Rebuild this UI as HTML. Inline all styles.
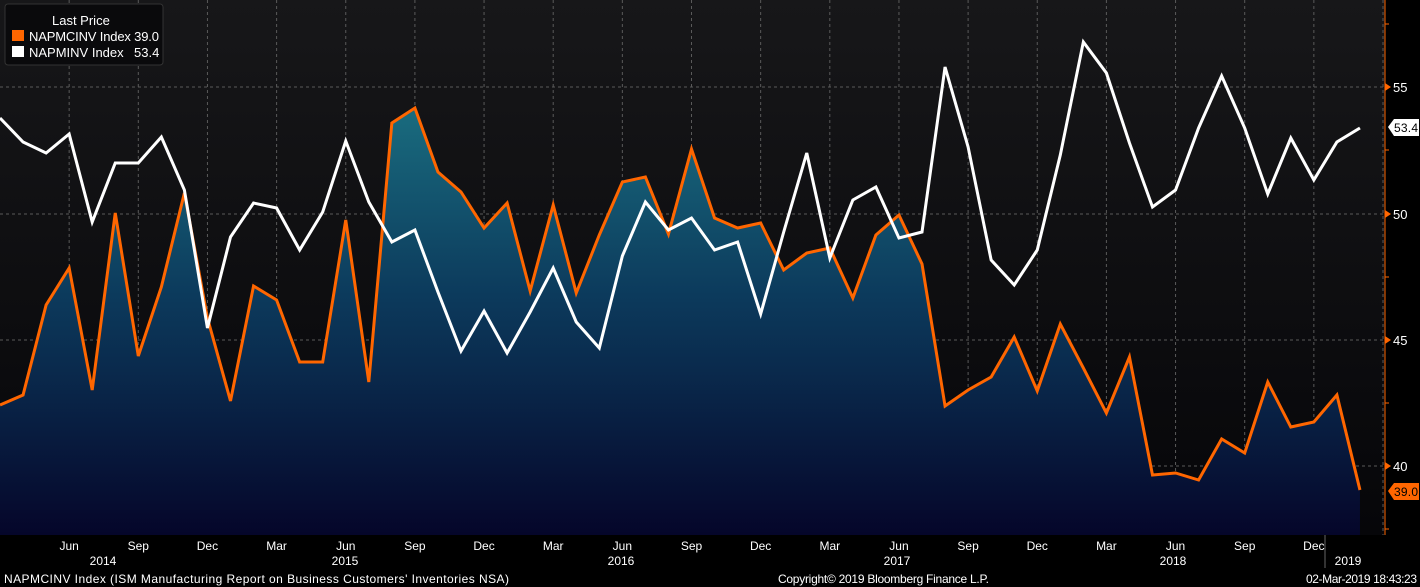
<!DOCTYPE html>
<html><head><style>
html,body{margin:0;padding:0;background:#000;}
svg{display:block;font-family:"Liberation Sans",Arial,sans-serif;}
</style></head><body>
<svg width="1420" height="587" viewBox="0 0 1420 587" xmlns="http://www.w3.org/2000/svg">
<defs>
<linearGradient id="bg" x1="0" y1="0" x2="0" y2="1">
<stop offset="0" stop-color="#171719"/><stop offset="1" stop-color="#060609"/>
</linearGradient>
<linearGradient id="fill" x1="0" y1="100" x2="0" y2="535" gradientUnits="userSpaceOnUse">
<stop offset="0" stop-color="#1a6e80"/><stop offset="0.45" stop-color="#0c3a5c"/><stop offset="1" stop-color="#05062a"/>
</linearGradient>
</defs>
<rect x="0" y="0" width="1420" height="587" fill="#000"/>
<rect x="0" y="0" width="1385" height="535" fill="url(#bg)"/>
<g id="grid" stroke="#5a5a5a" stroke-width="1" stroke-dasharray="3,3"></g>
<path id="area" fill="url(#fill)"/>
<polyline id="orange" fill="none" stroke="#ff6600" stroke-width="3" stroke-linejoin="miter"/>
<polyline id="white" fill="none" stroke="#ffffff" stroke-width="3"/>
<line x1="1385" y1="0" x2="1385" y2="535" stroke="#ff6600" stroke-width="1"/>
<g id="yax" fill="#fff" font-size="13"></g>
<g id="xax" fill="#fff" font-size="12"></g>
<polygon points="1388,127 1394,119 1419,119 1419,136 1394,136" fill="#fff"/>
<text x="1394" y="132" font-size="12" fill="#000" textLength="24">53.4</text>
<polygon points="1388,491 1394,483 1419,483 1419,500 1394,500" fill="#ff6600"/>
<text x="1394" y="496" font-size="12" fill="#000" textLength="24">39.0</text>
<rect x="5" y="4" width="158" height="61" rx="3" fill="#0a0a0c" stroke="#333"/>
<text x="52" y="25" font-size="13" fill="#fff">Last Price</text>
<rect x="12" y="30" width="12" height="11" fill="#ff6600"/>
<text x="29" y="41" font-size="13" fill="#fff" textLength="130">NAPMCINV Index 39.0</text>
<rect x="12" y="46" width="12" height="11" fill="#fff"/>
<text x="29" y="57" font-size="13" fill="#fff">NAPMINV Index</text>
<text x="134" y="57" font-size="13" fill="#fff">53.4</text>
<text x="4" y="583" font-size="12" fill="#fff" textLength="505">NAPMCINV Index (ISM Manufacturing Report on Business Customers' Inventories NSA)</text>
<text x="778" y="583" font-size="12" fill="#fff" textLength="211">Copyright© 2019 Bloomberg Finance L.P.</text>
<text x="1306" y="583" font-size="12" fill="#fff" textLength="111">02-Mar-2019 18:43:23</text>
</svg>
<script>
const o=[405,395,305,268,390,213,356,287,193,318,401,286,300,362,362,220,382,123,108,172,192,228,203,291,205,293,235,182,177,234,149,218,228,223,270,253,248,298,235,215,264,406,390,377,337,391,324,368,413,357,475,473,480,439,453,382,427,422,395,490];
const w=[118,142,153,134,222,163,163,137,190,328,237,203,208,250,212,141,202,242,230,292,351,311,353,312,268,322,348,256,202,230,218,250,242,314,232,153,258,200,187,238,232,67,147,260,285,250,155,42,73,143,207,190,128,76,128,194,138,180,142,128];
const X=i=>i*23.05;
document.getElementById('orange').setAttribute('points',o.map((y,i)=>X(i)+','+y).join(' '));
document.getElementById('white').setAttribute('points',w.map((y,i)=>X(i)+','+y).join(' '));
document.getElementById('area').setAttribute('d','M0,535 '+o.map((y,i)=>'L'+X(i)+','+y).join(' ')+' L'+X(59)+',535 Z');
const ns='http://www.w3.org/2000/svg';
const g=document.getElementById('grid'),ya=document.getElementById('yax'),xa=document.getElementById('xax');
function el(p,t,a,txt){const e=document.createElementNS(ns,t);for(const k in a)e.setAttribute(k,a[k]);if(txt)e.textContent=txt;p.appendChild(e);return e;}
[[55,87],[50,214],[45,340],[40,466]].forEach(([v,y])=>{el(g,'line',{x1:0,x2:1385,y1:y,y2:y});el(ya,'polygon',{points:`1385,${y-4} 1391,${y} 1385,${y+4}`,fill:'#ff6600'});el(ya,'text',{x:1393,y:y+5},String(v));});
[24,150,277,403,529].forEach(y=>el(ya,'line',{x1:1385,x2:1389,y1:y,y2:y,stroke:'#ff6600'}));
const ms=['Jun','Sep','Dec','Mar'];
for(let k=0;k<20;k++){const i=3+k*3;const x=X(i);el(g,'line',{x1:x,x2:x,y1:0,y2:535});
 const m=ms[k%4];if(!(k==19)) el(xa,'text',{x:x,y:550,'text-anchor':'middle'},m);}
[[2014,103],[2015,345],[2016,621],[2017,897],[2018,1173],[2019,1348]].forEach(([t,x])=>el(xa,'text',{x:x,y:565,'text-anchor':'middle'},String(t)));
el(xa,'line',{x1:1325,x2:1325,y1:535,y2:568,stroke:'#666'});
</script>
</body></html>
